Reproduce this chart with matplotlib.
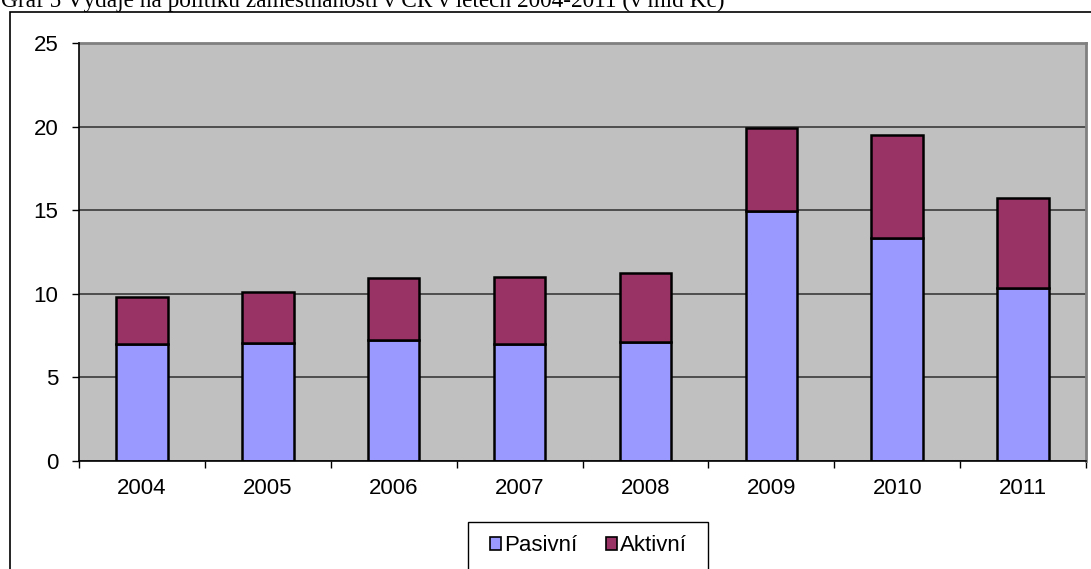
import matplotlib
matplotlib.use("Agg")
import matplotlib.pyplot as plt
from matplotlib.patches import Rectangle, Patch

# Expenditure on employment policy in the Czech Republic, bn CZK
years = ["2004", "2005", "2006", "2007", "2008", "2009", "2010", "2011"]
pasivni = [7.0, 7.07, 7.26, 6.99, 7.13, 14.97, 13.33, 10.32]
aktivni = [2.8, 3.03, 3.7, 3.99, 4.09, 4.97, 6.14, 5.38]
series_names = ["Pasivní", "Aktivní"]
title_text = "Graf 5 Výdaje na politiku zaměstnanosti v ČR v letech 2004-2011 (v mld Kč)"

W, H = 1091, 569
fig = plt.figure(figsize=(W / 100, H / 100), dpi=100)
fig.patch.set_facecolor("white")

def fx(px):
    return px / W

def fy(py):
    return 1 - py / H

# Caption above the chart frame (its upper part runs past the top edge)
title = fig.text(fx(1), fy(6.5), title_text, family="Liberation Serif",
                 fontsize=15, ha="left", va="baseline", color="black")
fig.canvas.draw()
r = fig.canvas.get_renderer()
w = title.get_window_extent(r).width
title.set_fontsize(15 * (726 / w))

# Outer chart frame
fig.add_artist(Rectangle((fx(9.5), fy(1000)), fx(1200), fy(11.5) - fy(1000),
                         transform=fig.transFigure, fill=False,
                         edgecolor="black", lw=1.2, zorder=0))

ax = fig.add_axes([fx(79), fy(461), fx(1086) - fx(79), fy(43) - fy(461)])
ax.set_facecolor("#C0C0C0")

x = list(range(len(years)))
bw = 0.41
ax.bar(x, pasivni, width=bw, color="#9999FF", edgecolor="black",
       linewidth=1.8, zorder=3, label=series_names[0])
ax.bar(x, aktivni, width=bw, bottom=pasivni, color="#993366",
       edgecolor="black", linewidth=1.8, zorder=3, label=series_names[1])

ax.set_xlim(-0.5, len(years) - 0.5)
ax.set_ylim(0, 25)
ax.set_yticks([0, 5, 10, 15, 20, 25])
ax.yaxis.grid(True, color="#3a3a3a", linewidth=1.2, zorder=1)
ax.set_axisbelow(True)

ax.set_xticks(x)
ax.set_xticklabels(years)
ax.set_xticks([i - 0.5 for i in range(len(years) + 1)], minor=True)
ax.tick_params(axis="x", which="major", length=0, pad=12,
               labelsize=16, labelfontfamily="Liberation Sans")
ax.tick_params(axis="x", which="minor", length=5, width=1, color="black",
               direction="out")
ax.tick_params(axis="y", which="major", length=5, width=1, pad=10,
               labelsize=16, labelfontfamily="Liberation Sans", direction="out")

for side in ("left", "bottom"):
    ax.spines[side].set_color("black")
    ax.spines[side].set_linewidth(1.2)
    ax.spines[side].set_zorder(4)
for side in ("top", "right"):
    ax.spines[side].set_color("#808080")
    ax.spines[side].set_linewidth(2)

# Legend entries, with a plain rectangular box drawn around them
handles = [Patch(facecolor="#9999FF", edgecolor="black", lw=1.2),
           Patch(facecolor="#993366", edgecolor="black", lw=1.2)]
leg = fig.legend(handles, series_names, loc="upper center",
                 bbox_to_anchor=(fx(588.5), fy(522)), ncol=2,
                 prop={"family": "Liberation Sans", "size": 16},
                 frameon=False, borderpad=0.6,
                 handlelength=0.5, handleheight=0.5, handletextpad=0.15,
                 columnspacing=1.25, borderaxespad=0)
fig.add_artist(Rectangle((fx(467.5), fy(1000)), fx(708) - fx(467.5),
                         fy(522) - fy(1000), transform=fig.transFigure,
                         fill=False, edgecolor="black", lw=1.0))

fig.savefig("out.png", dpi=100)
